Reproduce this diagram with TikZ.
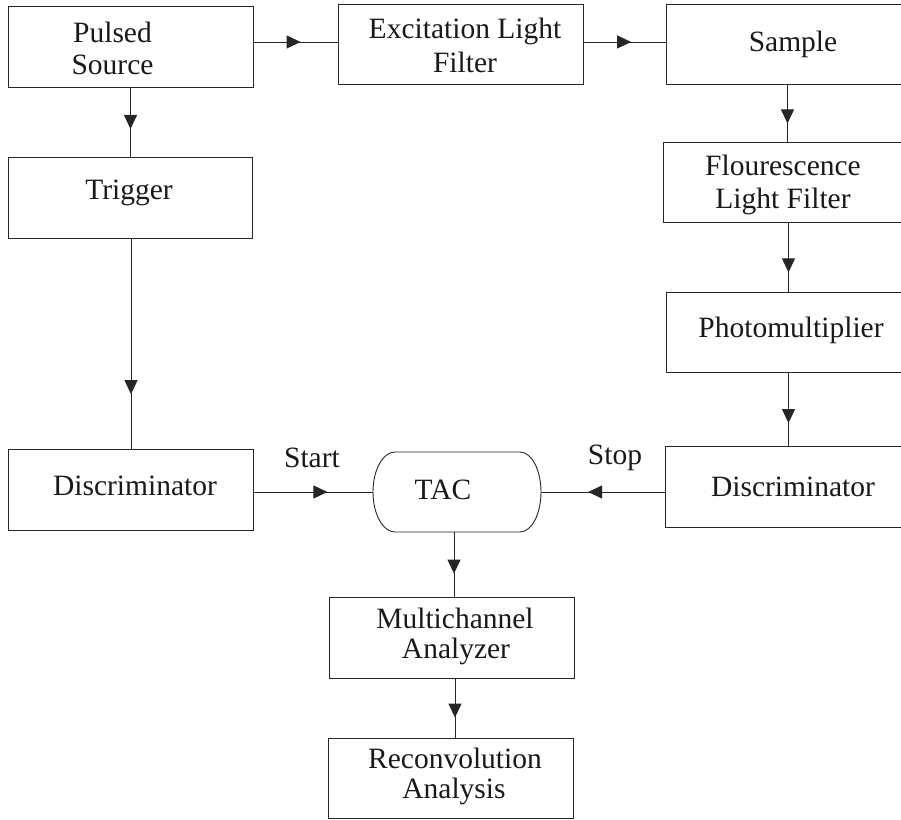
\documentclass[tikz,border=0pt]{standalone}
\usepackage{fontspec}
\setmainfont{Liberation Serif}
\usetikzlibrary{arrows.meta,decorations.markings}
\tikzset{
  box/.style={draw=black!85, line width=0.9pt, minimum width=245pt, minimum height=80pt, inner sep=0pt, outer sep=0pt},
  tacshape/.style={minimum width=168pt, minimum height=80pt, inner sep=0pt, outer sep=0pt},
  txt/.style={anchor=base, inner sep=0pt, font=\fontsize{29.5}{32}\selectfont, text=black!90},
  conn/.style={draw=black!85, line width=0.9pt},
  midarrow/.style={postaction={decorate}, decoration={markings, mark=at position #1 with {\arrow{Triangle[length=14pt,width=13pt]}}}}
}
\begin{document}
\begin{tikzpicture}[x=1pt,y=1pt]
\clip (0,0) rectangle (901,819);
% boxes
\node[box, minimum height=81pt] (ps) at (130.5,772.5) {};
\node[box] (ex) at (460.5,775) {};
\node[box] (sa) at (788.5,775) {};
\node[box, minimum width=244pt, minimum height=81pt] (tr) at (130,621.5) {};
\node[box] (fl) at (785.5,637) {};
\node[box] (ph) at (788.5,487) {};
\node[box, minimum height=81pt] (dl) at (130.5,329.5) {};
\node[box, minimum height=81pt] (dr) at (787.5,332.5) {};
\node[tacshape] (tac) at (457,327) {};
\node[box, minimum height=81pt] (mca) at (451.5,181.5) {};
\node[box] (rec) at (450.5,41) {};
% TAC outline
\draw[conn] ([xshift=22pt]tac.north west) -- ([xshift=-21pt]tac.north east)
  arc[start angle=90, end angle=-90, x radius=21pt, y radius=40pt]
  -- ([xshift=22pt]tac.south west)
  arc[start angle=270, end angle=90, x radius=22pt, y radius=40pt] -- cycle;
% texts
\node[txt] (t-ps1) at (112.5,776) {Pulsed};
\node[txt] (t-ps2) at (112.5,744) {Source};
\node[txt] (t-ex1) at (465,780) {Excitation Light};
\node[txt] (t-ex2) at (465,746) {Filter};
\node[txt] (t-sa) at (793,767) {Sample};
\node[txt] (t-tr) at (129,619) {Trigger};
\node[txt] (t-fl1) at (783,643) {Flourescence};
\node[txt] (t-fl2) at (783,610) {Light Filter};
\node[txt] (t-ph) at (791,481) {Photomultiplier};
\node[txt] (t-dl) at (135,323) {Discriminator};
\node[txt] (t-dr) at (793,322) {Discriminator};
\node[txt] (t-start) at (312,351) {Start};
\node[txt] (t-stop) at (615,354) {Stop};
\node[txt] (t-tac) at (443,319) {TAC};
\node[txt] (t-mca1) at (455,190) {Multichannel};
\node[txt] (t-mca2) at (456,161) {Analyzer};
\node[txt] (t-rec1) at (455,51) {Reconvolution};
\node[txt] (t-rec2) at (454,21) {Analysis};
% connectors
\draw[conn, midarrow=0.56] ([yshift=2pt]ex.west -| ps.east) -- ([yshift=2pt]ex.west);
\draw[conn, midarrow=0.58] ([yshift=2pt]ex.east) -- ([yshift=2pt]sa.west);
\draw[conn, midarrow=0.6] (ps.south) -- (ps.south |- tr.north);
\draw[conn, midarrow=0.74] ([xshift=1pt]tr.south) -- ([xshift=1pt]tr.south |- dl.north);
\draw[conn, midarrow=0.68] ([xshift=-1pt]sa.south) -- ([xshift=-1pt]sa.south |- fl.north);
\draw[conn, midarrow=0.72] (ph.north |- fl.south) -- (ph.north);
\draw[conn, midarrow=0.69] (ph.south) -- (ph.south |- dr.north);
\draw[conn, midarrow=0.62] (tac.west -| dl.east) -- (tac.west);
\draw[conn, midarrow=0.62] (tac.east -| dr.west) -- (tac.east);
\draw[conn, midarrow=0.64] ([xshift=-3pt]tac.south) -- ([xshift=-3pt]tac.south |- mca.north);
\draw[conn, midarrow=0.66] ([xshift=3.5pt]mca.south) -- ([xshift=3.5pt]mca.south |- rec.north);
\end{tikzpicture}
\end{document}
